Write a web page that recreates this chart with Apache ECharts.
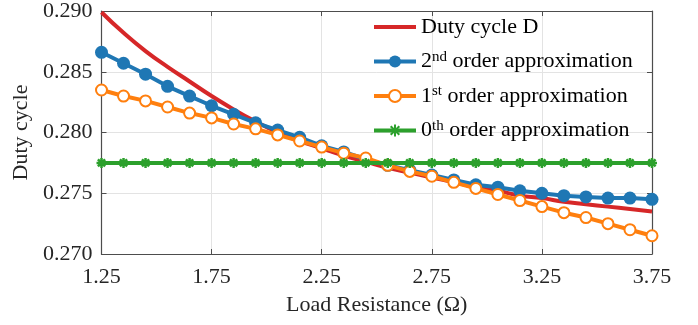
<!DOCTYPE html>
<html>
<head>
<meta charset="utf-8">
<script src="https://cdn.jsdelivr.net/npm/echarts@6/dist/echarts.min.js"></script>
<style>html,body{margin:0;padding:0;background:#fff;}#c{width:698px;height:325px;}</style>
</head>
<body>
<div id="c"></div>
<script>
const loadR = [1.25,1.35,1.45,1.55,1.65,1.75,1.85,1.95,2.05,2.15,2.25,2.35,2.45,2.55,2.65,2.75,2.85,2.95,3.05,3.15,3.25,3.35,3.45,3.55,3.65,3.75];
const dutyD = [0.2899,0.2882,0.2867,0.2854,0.2842,0.2830,0.2819,0.2809,0.2800,0.2793,0.2787,0.2781,0.2776,0.2771,0.2767,0.2763,0.2759,0.2755,0.2752,0.2748,0.2746,0.2743,0.2741,0.2739,0.2737,0.2735];
const order2 = [0.2866,0.2857,0.2848,0.2838,0.2830,0.2822,0.2815,0.2808,0.2802,0.2796,0.2789,0.2784,0.2778,0.2773,0.2769,0.2765,0.2761,0.2757,0.2755,0.2752,0.2750,0.2748,0.2747,0.2746,0.2746,0.2745];
const order1 = [0.2835,0.2830,0.2826,0.2821,0.2816,0.2812,0.2807,0.2803,0.2798,0.2793,0.2788,0.2783,0.2779,0.2773,0.2768,0.2764,0.2759,0.2754,0.2749,0.2744,0.2739,0.2734,0.2730,0.2725,0.2720,0.2715];
const order0 = [0.2775,0.2775,0.2775,0.2775,0.2775,0.2775,0.2775,0.2775,0.2775,0.2775,0.2775,0.2775,0.2775,0.2775,0.2775,0.2775,0.2775,0.2775,0.2775,0.2775,0.2775,0.2775,0.2775,0.2775,0.2775,0.2775];
const seriesNames = ['Duty cycle D','2nd order approximation','1st order approximation','0th order approximation'];
const xTicks = [1.25,1.75,2.25,2.75,3.25,3.75];
const yTicks = [0.270,0.275,0.280,0.285,0.290];

const FONT = '"Liberation Serif","DejaVu Serif",serif';
const TXT = '#262626';
function zip(ys){ return loadR.map((x,i)=>[x, ys[i]]); }
const asterisk = 'path://M0,-5L0,5M-5,0L5,0M-3.6,-3.6L3.6,3.6M-3.6,3.6L3.6,-3.6';

const chart = echarts.init(document.getElementById('c'), null, {renderer:'canvas'});
const axisLine = {show:true, lineStyle:{color:'#4d4d4d', width:1.2}};
chart.setOption({
  animation:false,
  backgroundColor:'#fff',
  grid:{left:101.5, right:46, top:10, bottom:71, containLabel:false},
  legend:{
    orient:'vertical', left:367, top:10,
    itemWidth:42, itemHeight:15, itemGap:10.5,
    lineStyle:{width:4},
    data:[
      {name:seriesNames[0], itemStyle:{opacity:0}},
      {name:seriesNames[1]},
      {name:seriesNames[2]},
      {name:seriesNames[3]}
    ],
    textStyle:{
      fontFamily:FONT, fontSize:22, color:'#000', lineHeight:24,
      rich:{
        n:{fontFamily:FONT, fontSize:22, color:'#000', lineHeight:24},
        s:{fontFamily:FONT, fontSize:15, color:'#000', lineHeight:15, verticalAlign:'top'}
      }
    },
    formatter:function(name){
      const m = name.match(/^(\d)(nd|st|th)(.*)$/);
      if(m) return '{n|'+m[1]+'}{s|'+m[2]+'}{n|'+m[3]+'}';
      return '{n|'+name+'}';
    }
  },
  xAxis:[{
    type:'value', min:xTicks[0], max:xTicks[xTicks.length-1], interval:0.5,
    name:'Load Resistance (Ω)', nameLocation:'middle', nameGap:40,
    nameTextStyle:{fontFamily:FONT, fontSize:22, color:TXT},
    axisLine:axisLine,
    axisTick:{show:true, inside:true, length:5, lineStyle:{color:'#4d4d4d'}},
    axisLabel:{fontFamily:FONT, fontSize:22, color:TXT, margin:12, formatter:v=>v.toFixed(2)},
    splitLine:{show:true, lineStyle:{color:'#e3e3e3', width:1}}
  },{
    type:'value', position:'top', min:xTicks[0], max:xTicks[xTicks.length-1], interval:0.5,
    axisLine:axisLine,
    axisTick:{show:true, inside:true, length:5, lineStyle:{color:'#4d4d4d'}},
    axisLabel:{show:false}, splitLine:{show:false}
  }],
  yAxis:[{
    type:'value', min:yTicks[0], max:yTicks[yTicks.length-1], interval:0.005,
    name:'Duty cycle', nameLocation:'middle', nameGap:64, nameRotate:90,
    nameTextStyle:{fontFamily:FONT, fontSize:22, color:TXT},
    axisLine:axisLine,
    axisTick:{show:true, inside:true, length:5, lineStyle:{color:'#4d4d4d'}},
    axisLabel:{fontFamily:FONT, fontSize:22, color:TXT, margin:9, formatter:v=>v.toFixed(3)},
    splitLine:{show:true, lineStyle:{color:'#e3e3e3', width:1}}
  },{
    type:'value', position:'right', min:yTicks[0], max:yTicks[yTicks.length-1], interval:0.005,
    axisLine:axisLine,
    axisTick:{show:true, inside:true, length:5, lineStyle:{color:'#4d4d4d'}},
    axisLabel:{show:false}, splitLine:{show:false}
  }],
  series:[
    {name:seriesNames[0], type:'line', data:zip(dutyD), smooth:true, showSymbol:false, symbol:'none',
     lineStyle:{color:'#d62728', width:4}, itemStyle:{color:'#d62728'}, z:2},
    {name:seriesNames[1], type:'line', data:zip(order2), symbol:'circle', symbolSize:13, showAllSymbol:true,
     lineStyle:{color:'#1f77b4', width:4}, itemStyle:{color:'#1f77b4', borderColor:'#1f77b4', borderWidth:0}, z:3},
    {name:seriesNames[2], type:'line', data:zip(order1), symbol:'emptyCircle', symbolSize:11, showAllSymbol:true,
     lineStyle:{color:'#ff7f0e', width:4}, itemStyle:{color:'#ff7f0e', borderColor:'#ff7f0e', borderWidth:3}, z:4},
    {name:seriesNames[3], type:'line', data:zip(order0), symbol:asterisk, symbolSize:10, showAllSymbol:true,
     lineStyle:{color:'#2ca02c', width:4}, itemStyle:{color:'#2ca02c', borderColor:'#2ca02c', borderWidth:2.5}, z:5}
  ]
});
</script>
</body>
</html>
